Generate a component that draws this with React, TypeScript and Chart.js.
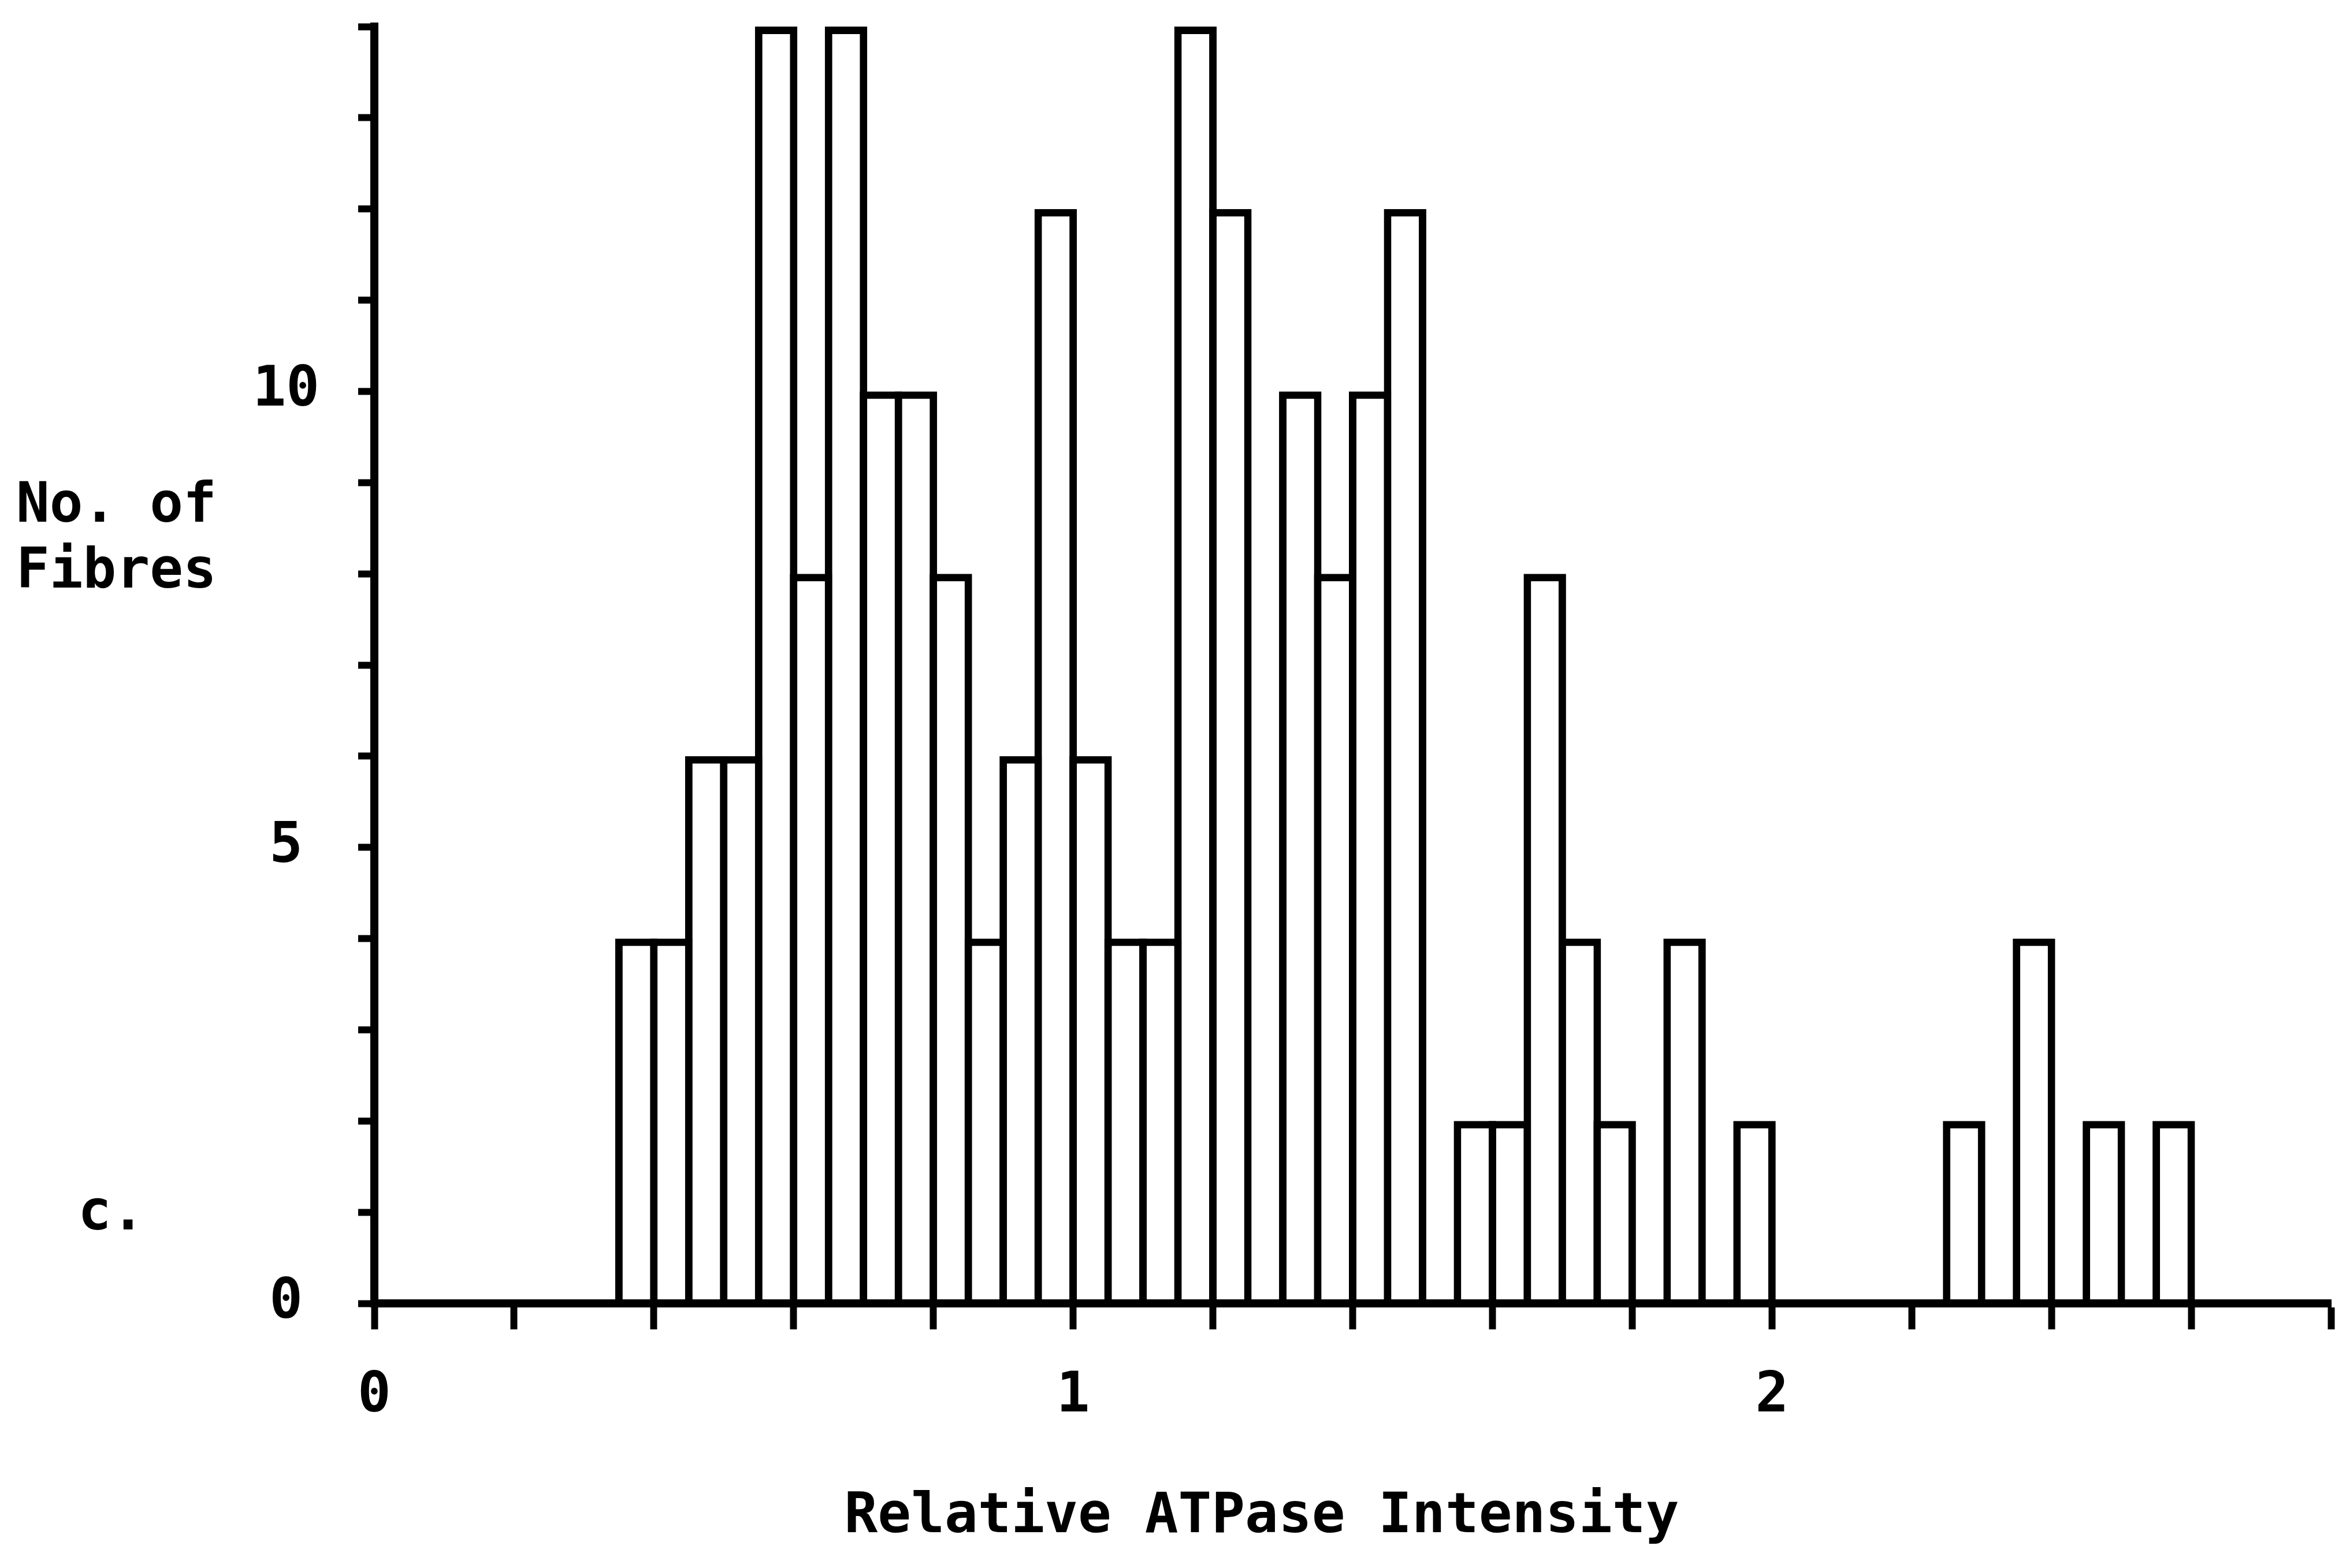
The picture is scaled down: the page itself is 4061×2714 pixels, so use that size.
import React, { useEffect, useRef } from 'react';
import { Chart, registerables } from 'chart.js';

Chart.register(...registerables);

// Left edge of each histogram bin (Relative ATPase Intensity)
const binLeft = [
  0.35, 0.40, 0.45, 0.50, 0.55, 0.60, 0.65, 0.70, 0.75, 0.80,
  0.85, 0.90, 0.95, 1.00, 1.05, 1.10, 1.15, 1.20, 1.25, 1.30,
  1.35, 1.40, 1.45, 1.50, 1.55, 1.60, 1.65, 1.70, 1.75, 1.80,
  1.85, 1.90, 1.95, 2.00, 2.05, 2.10, 2.15, 2.20, 2.25, 2.30,
  2.35, 2.40, 2.45, 2.50, 2.55,
];
// Number of fibres in each bin
const fibreCounts = [
  4, 4, 6, 6, 14, 8, 14, 10, 10, 8,
  4, 6, 12, 6, 4, 4, 14, 12, 0, 10,
  8, 10, 12, 0, 2, 2, 8, 4, 2, 0,
  4, 0, 2, 0, 0, 0, 0, 0, 2, 0,
  4, 0, 2, 0, 2,
];
const BIN_WIDTH = 0.05;

const xTickLabels = ['0', '1', '2'];
const yTickLabels = ['0', '5', '10'];
const X_MIN = 0;
const X_MAX = 2.8;
const X_STEP = 0.2;
const Y_MIN = 0;
const Y_MAX = 14;
const Y_STEP = 1;

const yTitleLines = ['No. of', 'Fibres'];
const xTitle = 'Relative ATPase Intensity';
const panelLabel = 'c.';

const FONT_FAMILY = '"DejaVu Sans Mono"';
const FONT_SIZE = 96;

export default function App() {
  const ref = useRef<HTMLCanvasElement>(null);

  useEffect(() => {
    const canvas = ref.current;
    if (!canvas) return;
    const W = 4061;
    const H = 2714;
    const PLOT_LEFT = 648;
    const PLOT_RIGHT = 4035;
    const PLOT_TOP = 46;
    const PLOT_BOTTOM = 2256;
    const BORDER = 13;
    const binPx = ((PLOT_RIGHT - PLOT_LEFT) / (X_MAX - X_MIN)) * BIN_WIDTH;

    const textPlugin = {
      id: 'freeText',
      afterDraw(chart: any) {
        const ctx = chart.ctx as CanvasRenderingContext2D;
        ctx.save();
        ctx.fillStyle = '#000';
        ctx.font = `bold ${FONT_SIZE}px ${FONT_FAMILY}`;
        ctx.textBaseline = 'alphabetic';
        ctx.textAlign = 'left';
        yTitleLines.forEach((line, i) => ctx.fillText(line, 28, 903 + i * 114));
        ctx.fillText(panelLabel, 135, 2128);
        ctx.textAlign = 'center';
        ctx.fillText(xTitle, 2184, 2652);
        ctx.restore();
      },
    };

    const tickFont = { family: FONT_FAMILY, size: FONT_SIZE, weight: 'bold' as const };

    const chart = new Chart(canvas, {
      type: 'bar',
      data: {
        datasets: [
          {
            data: binLeft.map((x, i) => ({ x: x + BIN_WIDTH / 2, y: fibreCounts[i] })),
            backgroundColor: '#ffffff',
            borderColor: '#000000',
            borderWidth: BORDER,
            borderSkipped: 'start',
            barPercentage: (binPx + BORDER) / binPx,
            categoryPercentage: 1,
          } as any,
        ],
      },
      options: {
        responsive: false,
        animation: false,
        devicePixelRatio: 1,
        layout: { padding: { top: PLOT_TOP, right: W - PLOT_RIGHT, bottom: 0, left: 0 } },
        plugins: {
          legend: { display: false },
          tooltip: { enabled: false },
          title: { display: false },
        },
        scales: {
          x: {
            type: 'linear',
            min: X_MIN,
            max: X_MAX,
            offset: false,
            grid: {
              display: true,
              offset: false,
              drawOnChartArea: false,
              drawTicks: true,
              tickLength: 45,
              tickWidth: 12,
              tickColor: '#000',
              z: 1,
            },
            border: { display: true, color: '#000', width: 14, z: 1 },
            ticks: {
              stepSize: X_STEP,
              autoSkip: false,
              maxRotation: 0,
              minRotation: 0,
              padding: 59,
              color: '#000',
              font: tickFont,
              z: 1,
              callback: (v: any) => {
                const lbl = xTickLabels.find((l) => Math.abs(Number(l) - Number(v)) < 1e-6);
                return lbl ?? '';
              },
            },
            afterFit: (s: any) => {
              s.height = H - PLOT_BOTTOM;
              s.paddingLeft = 0;
              s.paddingRight = 0;
            },
          },
          y: {
            type: 'linear',
            min: Y_MIN,
            max: Y_MAX,
            grid: {
              display: true,
              drawOnChartArea: false,
              drawTicks: true,
              tickLength: 28,
              tickWidth: 12,
              tickColor: '#000',
              z: 1,
            },
            border: { display: true, color: '#000', width: 14, z: 1 },
            ticks: {
              stepSize: Y_STEP,
              autoSkip: false,
              crossAlign: 'center',
              padding: 67,
              color: '#000',
              font: tickFont,
              z: 1,
              callback: (v: any) => {
                const lbl = yTickLabels.find((l) => Math.abs(Number(l) - Number(v)) < 1e-6);
                return lbl ?? '';
              },
            },
            afterFit: (s: any) => {
              s.width = PLOT_LEFT;
              s.paddingTop = 0;
              s.paddingBottom = 0;
            },
          },
        },
      } as any,
      plugins: [textPlugin],
    });

    return () => chart.destroy();
  }, []);

  return (
    <canvas
      ref={ref}
      width={4061}
      height={2714}
      style={{ position: 'absolute', left: 0, top: 0, background: '#fff' }}
    />
  );
}
